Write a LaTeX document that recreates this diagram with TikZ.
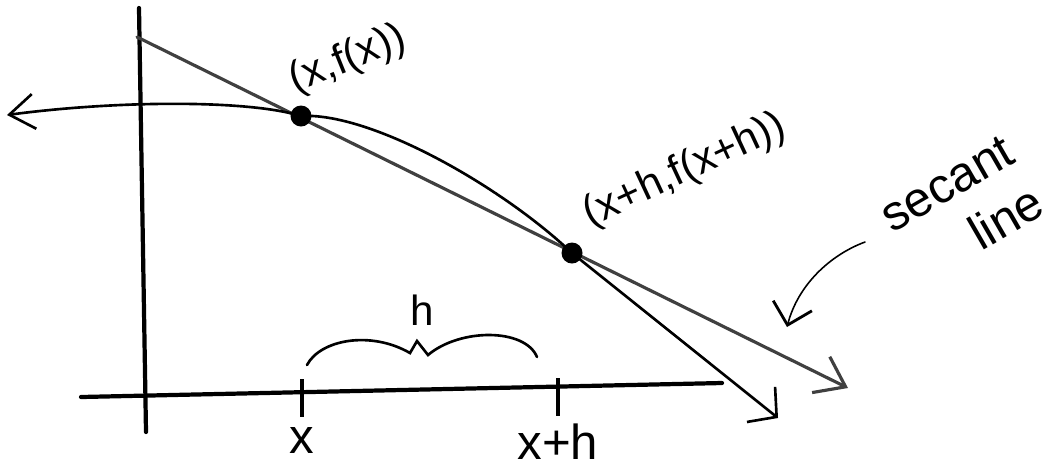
\documentclass[tikz,border=0pt]{standalone}
\usepackage{fontspec}
\setmainfont{Liberation Sans}
\usetikzlibrary{arrows.meta,positioning}

\begin{document}
\begin{tikzpicture}[
  x=0.02cm, y=-0.02cm,
  axis/.style={line width=2.4pt, line cap=round},
  curve/.style={line width=1.5pt, line cap=round},
  secant/.style={line width=1.8pt, black!75, line cap=round, -{Straight Barb[length=5.5mm, width=8mm]}},
  note/.style={line width=0.9pt, line cap=round, -{Straight Barb[length=4mm, width=8mm, line width=1.6pt]}},
  dot/.style={circle, fill, inner sep=0pt, minimum size=0.42cm},
  tick/.style={fill, inner sep=0pt, minimum width=2.2pt, minimum height=0.76cm},
  ptlabel/.style={inner sep=0pt, font=\fontsize{24pt}{24pt}\selectfont},
  axlabel/.style={inner sep=0pt, font=\fontsize{28pt}{28pt}\selectfont},
  notelabel/.style={inner sep=0pt, align=right, font=\fontsize{28pt}{34pt}\selectfont}
]
\useasboundingbox (0,0) rectangle (1060,468);
\coordinate (yt) at (139,8);
\coordinate (yb) at (146,432);
\coordinate (xl) at (81,397);
\coordinate (xr) at (722,383);
\coordinate (cl) at (7,115);
\coordinate (cr) at (778,418);
\coordinate (sa) at (137,37);
\coordinate (sb) at (848,388);
\coordinate (p1) at (301,116);
\coordinate (p2) at (572,253);
\coordinate (na) at (865,242);
\coordinate (nb) at (787,327);

\draw[axis] (xl) -- (xr);
\draw[axis] (yt) -- (yb);
\node[tick] (tx) at (302,398) {};
\node[tick] (txh) at (558,397) {};
\node[axlabel, below=2mm of tx] (lx) {x};
\node[axlabel, below=1.5mm of txh] (lxh) {x+h};
\draw[curve] (307,365) .. controls (320,340) and (370,330) .. (410,353) -- (417,341) -- (428,355) .. controls (460,328) and (525,328) .. (537,357);
\node[ptlabel] (lh) at (422,310) {h};

\draw[secant] (sa) -- (sb);
\draw[curve, {Straight Barb[length=5mm, width=7mm]}-{Straight Barb[length=4mm, width=9mm]}] (cl) .. controls (120,100) and (250,100) .. (p1) .. controls (370,112) and (500,185) .. (p2) -- (cr);
\node[dot] (d1) at (p1) {};
\node[dot] (d2) at (p2) {};
\node[ptlabel, rotate=22] (l1) at (348,60) {(x,f(x))};
\node[ptlabel, rotate=25] (l2) at (685,171) {(x+h,f(x+h))};
\node[notelabel, rotate=30] (sl) at (962,210) {secant\\line};
\draw[note] (na) .. controls (830,255) and (798,285) .. (nb);
\end{tikzpicture}
\end{document}
